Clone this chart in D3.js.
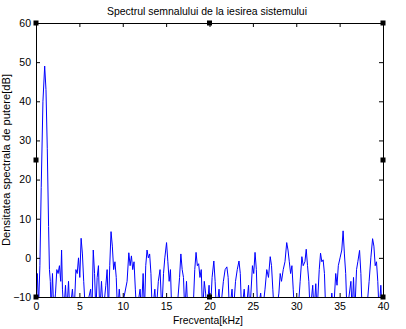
<!DOCTYPE html>
<html><head><meta charset="utf-8">
<script src="https://cdn.jsdelivr.net/npm/d3@7"></script>
<style>body{margin:0;background:#fff}svg{display:block}text{font-family:"Liberation Sans",Arial,sans-serif;fill:#000}</style>
</head><body><svg id="c" width="406" height="329"></svg>
<script>
const titleText = "Spectrul semnalului de la iesirea sistemului";
const xLabel = "Frecventa[kHz]";
const yLabel = "Densitatea spectrala de putere[dB]";
const xTicks = [0,5,10,15,20,25,30,35,40];
const yTicks = [-10,0,10,20,30,40,50,60];
const freq = [0,0.15,0.3,0.45,0.6,0.8,1.0,1.15,1.3,1.45,1.55,1.65,1.75,1.9,2.05,2.25,2.4,2.55,2.7,2.85,2.95,3.05,3.2,3.4,3.55,3.75,3.9,4.2,4.4,4.6,4.75,4.9,5.05,5.2,5.35,5.5,5.7,6.3,6.45,6.6,6.75,6.9,7.05,7.2,7.35,7.55,7.75,8.05,8.2,8.35,8.5,8.65,8.8,8.95,9.1,9.25,9.4,9.6,9.8,10.5,10.7,10.85,11.0,11.15,11.3,11.45,11.6,12.0,12.15,12.35,12.5,12.65,12.8,12.95,13.1,13.25,13.4,13.7,13.85,14.1,14.3,14.5,14.7,14.85,15.05,15.2,15.35,15.5,15.65,16.1,16.3,16.55,16.7,16.85,17.0,17.15,17.35,17.5,17.9,18.1,18.3,18.45,18.6,18.75,18.9,19.05,19.2,19.4,19.55,19.7,19.95,20.1,20.3,20.5,20.65,20.8,21.1,21.25,21.6,21.8,22.0,22.15,22.3,22.6,22.75,23.0,23.2,23.4,23.55,23.7,24.0,24.2,24.5,24.65,24.95,25.1,25.25,25.4,25.55,25.9,26.1,26.4,26.6,26.8,27.0,27.15,27.3,27.45,27.7,28.0,28.15,28.3,28.5,28.7,28.9,29.05,29.2,29.35,29.5,29.65,29.8,30.2,30.45,30.65,30.8,31.0,31.15,31.3,31.45,31.6,31.9,32.05,32.25,32.4,32.65,32.8,32.95,33.1,33.25,33.4,33.9,34.1,34.3,34.55,34.7,34.85,35.05,35.25,35.4,35.55,35.7,35.85,36.3,36.45,36.6,36.75,36.95,37.1,37.3,37.45,37.6,38.1,38.4,38.6,38.8,38.95,39.1,39.25,39.4,39.55,39.75,39.9,40.0];
const psd = [-14,-4,-12,-2,18,40,49,43,28,8,-3,-6,-14,-4,-14,-9,-3,-4,-2,-6,2,-8,-14,-7,-14,-6,-14,-8,-14,-3,-4,0,-5,5,1,-6,-14,-8,-14,2,-4,-14,-5,-2,-14,-6,-14,-7,-3,-14,-2,6.7,3,-3,-1,-5,-14,-8,-14,-6,1.3,-2,0.5,-3,-1,-8,-14,-8,-14,-4,-14,-2,2,0,1,-4,-14,-8,-14,-6,-3,-14,-4,0,3.9,-1,-6,-3,-14,-14,-12,-5,1,-3,-5,-14,-6,-14,-10,-14,-3,1.4,-2,-1.5,-5,-3,-14,-6,-9,-14,-7,-14,-5,-0.8,-6,-14,-8,-14,-6,-3,-2.3,-5,-14,-8,-14,-6,-3,-0.8,-4,-14,-8,-14,-7,-14,-2,-4,1.4,-3,-14,-9,-14,-8,-3,-5,0.3,-2,-8,-14,-14,-9,-4,-6,-3,-1,3.9,2,-1,-4,-2,-8,-14,-14,-6,0.3,-2,-1,2.2,-2,-6,-14,-7,-14,-6.6,-14,-3,1.2,-1,-0.5,-4,-14,-14,-9,-14,-4,-7,-2,0,2,6.9,1,-4,-14,-6,-14,-5,-14,-3,-1,1.9,-4,-14,-14,-6,0,4.9,3,-2,-1,-6,-14,-7,-14,-10];

const svg = d3.select("#c");
const L=36,R=383,T=23,B=297;
const x = d3.scaleLinear().domain([0,40]).range([L,R]);
const y = d3.scaleLinear().domain([-10,60]).range([B,T]);

svg.append("defs").append("clipPath").attr("id","clip").append("rect")
  .attr("x",L).attr("y",T).attr("width",R-L).attr("height",B-T);

svg.append("path").datum(freq.map((f,i)=>[f,psd[i]]))
  .attr("clip-path","url(#clip)")
  .attr("fill","none").attr("stroke","#0000ff").attr("stroke-width",1)
  .attr("d",d3.line().x(d=>x(d[0])).y(d=>y(d[1])));

const fs = "10.5px";
svg.append("g").attr("transform",`translate(0,${B})`)
  .call(d3.axisBottom(x).tickValues(xTicks).tickSizeInner(-4).tickSizeOuter(0).tickPadding(6));
svg.append("g").attr("transform",`translate(0,${T})`)
  .call(d3.axisTop(x).tickValues(xTicks).tickSizeInner(-4).tickSizeOuter(0).tickFormat(""));
svg.append("g").attr("transform",`translate(${L},0)`)
  .call(d3.axisLeft(y).tickValues(yTicks).tickSizeInner(-4).tickSizeOuter(0).tickPadding(5));
svg.append("g").attr("transform",`translate(${R},0)`)
  .call(d3.axisRight(y).tickValues(yTicks).tickSizeInner(-4).tickSizeOuter(0).tickFormat(""));
svg.selectAll(".domain").attr("stroke","#000");
svg.selectAll(".tick line").attr("stroke","#000");
svg.selectAll(".tick text").style("font-size",fs).style("font-family",'"Liberation Sans",Arial,sans-serif').attr("fill","#000");

// selection handles
const handles = [[L,T],[(L+R)/2,T],[R,T],[L,(T+B)/2],[R,(T+B)/2],[L,B],[(L+R)/2,B],[R,B]];
svg.selectAll("rect.h").data(handles).enter().append("rect").attr("class","h")
  .attr("x",d=>d[0]-2.5).attr("y",d=>d[1]-2.5).attr("width",5).attr("height",5).attr("fill","#000");

svg.append("text").attr("x",207).attr("y",15).attr("text-anchor","middle")
  .attr("textLength",200).attr("lengthAdjust","spacingAndGlyphs")
  .style("font-size","11px").text(titleText);
svg.append("text").attr("x",208).attr("y",324).attr("text-anchor","middle")
  .attr("textLength",70).attr("lengthAdjust","spacingAndGlyphs")
  .style("font-size",fs).text(xLabel);
svg.append("text").attr("transform",`translate(10,${(T+B)/2}) rotate(-90)`).attr("text-anchor","middle")
  .attr("textLength",172).attr("lengthAdjust","spacingAndGlyphs")
  .style("font-size",fs).text(yLabel);
</script></body></html>
